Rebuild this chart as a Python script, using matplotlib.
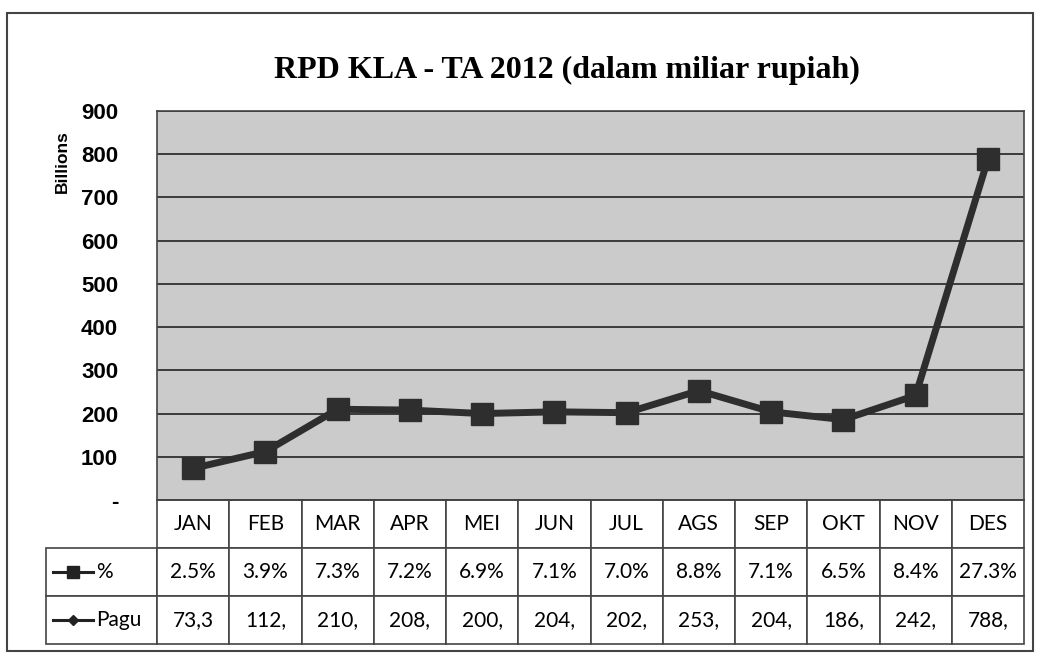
import numpy as np
import matplotlib
matplotlib.use('Agg')
import matplotlib.pyplot as plt
from matplotlib.patches import Rectangle
from matplotlib.lines import Line2D

# data
bulan = ['JAN', 'FEB', 'MAR', 'APR', 'MEI', 'JUN', 'JUL', 'AGS', 'SEP', 'OKT', 'NOV', 'DES']
pagu = [73.3, 112, 210, 208, 200, 204, 202, 253, 204, 186, 242, 788]
persen_label = ['2.5%', '3.9%', '7.3%', '7.2%', '6.9%', '7.1%', '7.0%', '8.8%', '7.1%', '6.5%', '8.4%', '27.3%']
pagu_label = ['73,3', '112,', '210,', '208,', '200,', '204,', '202,', '253,', '204,', '186,', '242,', '788,']
yticks = [0, 100, 200, 300, 400, 500, 600, 700, 800, 900]
ytick_label = ['-', '100', '200', '300', '400', '500', '600', '700', '800', '900']

narrow = ['Lato', 'DejaVu Sans']
tebal = ['Liberation Sans', 'DejaVu Sans']
W, H = 1041, 655

fig = plt.figure(figsize=(W / 100, H / 100), dpi=100)
fig.patch.set_facecolor('white')

# plot area in pixels: x 157..1024, y 111..500
x0, x1, y0, y1 = 157, 1024, 111, 500
ax = fig.add_axes([x0 / W, 1 - y1 / H, (x1 - x0) / W, (y1 - y0) / H])
ax.set_facecolor('#cbcbcb')

x = np.arange(len(bulan))
ax.plot(x, pagu, color='#2e2e2e', lw=5, marker='s', ms=16, mec='#2e2e2e', mfc='#2e2e2e', zorder=3)

ax.set_xlim(-0.5, len(bulan) - 0.5)
ax.set_ylim(0, 900)
ax.set_yticks(yticks)
ax.set_yticklabels(ytick_label)
for t in ax.get_yticklabels():
    t.set_fontfamily(tebal)
    t.set_fontsize(16)
    t.set_fontweight('bold')
ax.tick_params(axis='y', length=0, pad=28)
ax.set_xticks([])
ax.yaxis.grid(True, color='#3c3c3c', lw=1.4)
ax.set_axisbelow(True)
for s in ax.spines.values():
    s.set_color('#444444')
    s.set_linewidth(1.2)

# table under the chart
lbl_w = (x0 - 46) / (x1 - x0)
tab_h = (644 - 500) / (y1 - y0)
cells = [[''] + bulan,
         ['%'] + persen_label,
         ['Pagu'] + pagu_label]
col_w = [lbl_w] + [1 / len(bulan)] * len(bulan)
tab = ax.table(cellText=cells, colWidths=col_w, cellLoc='center',
               bbox=[-lbl_w, -tab_h, 1 + lbl_w, tab_h])
tab.auto_set_font_size(False)
for (r, c), cell in tab.get_celld().items():
    cell.set_edgecolor('#444444')
    cell.set_linewidth(1.2)
    cell.get_text().set_fontfamily(narrow)
    cell.get_text().set_fontsize(15)
    if c == 0:
        cell.get_text().set_ha('left')
        cell.PAD = 0.45
tab[0, 0].set_visible(False)

# legend keys in the row label cells
rh = tab_h / 3
for i, mk, ms in [(1, 's', 9), (2, 'D', 5)]:
    yy = -rh * (i + 0.5)
    ax.add_line(Line2D([-lbl_w + 0.008, -0.074], [yy, yy], transform=ax.transAxes,
                       color='#222222', lw=2.2, clip_on=False))
    ax.add_line(Line2D([(-lbl_w + 0.008 - 0.074) / 2], [yy], transform=ax.transAxes,
                       color='#222222', marker=mk, ms=ms, clip_on=False))

fig.text(0.545, 1 - 70 / H, 'RPD KLA - TA 2012 (dalam miliar rupiah)', ha='center', va='center',
         family=['Liberation Serif', 'DejaVu Serif'], fontweight='bold', fontsize=23)
fig.text(62 / W, 1 - 162 / H, 'Billions', rotation=90, ha='center', va='center',
         family=tebal, fontweight='bold', fontsize=12.5)

fig.patches.append(Rectangle((7 / W, 1 - 651 / H), (1033 - 7) / W, (651 - 13) / H,
                             transform=fig.transFigure, fill=False, ec='#444444', lw=1.5))

fig.savefig('out.png', dpi=100)
